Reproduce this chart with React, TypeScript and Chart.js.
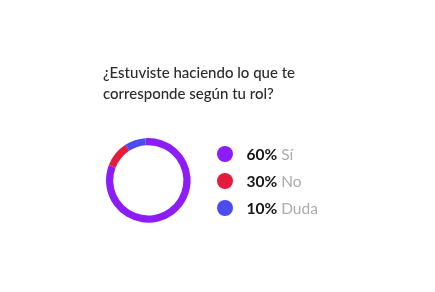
import React, { useEffect, useRef } from "react";
import { Chart, registerables } from "chart.js";

Chart.register(...registerables);

const titleLines = ["¿Estuviste haciendo lo que te", "corresponde según tu rol?"];
const categories = ["Sí", "No", "Duda"];
const percentLabels = ["60%", "30%", "10%"];
const sliceValues = [82, 10, 8];
const colors = ["#8C1CF8", "#E51B3B", "#4B4BF0"];

const FONT = "Lato, 'DejaVu Sans', sans-serif";

const textPlugin = {
  id: "textPlugin",
  afterDraw(chart: any) {
    const ctx = chart.ctx as CanvasRenderingContext2D;
    ctx.save();
    ctx.textBaseline = "alphabetic";
    ctx.textAlign = "left";
    ctx.fillStyle = "#2a2a2a";
    ctx.font = `500 15px ${FONT}`;
    titleLines.forEach((line, i) => {
      ctx.fillText(line, 103, 78 + i * 21);
    });
    categories.forEach((cat, i) => {
      const cy = 154 + i * 27;
      ctx.beginPath();
      ctx.arc(225, cy, 8, 0, Math.PI * 2);
      ctx.fillStyle = colors[i];
      ctx.fill();
      ctx.font = `700 15.5px ${FONT}`;
      ctx.fillStyle = "#151515";
      const pct = percentLabels[i];
      ctx.fillText(pct, 246.5, cy + 6);
      const w = ctx.measureText(pct).width;
      ctx.font = `400 15.5px ${FONT}`;
      ctx.fillStyle = "#ababab";
      ctx.fillText(cat, 246.5 + w + 4, cy + 6);
    });
    ctx.restore();
  },
};

export default function App() {
  const ref = useRef<HTMLCanvasElement>(null);
  useEffect(() => {
    if (!ref.current) return;
    const chart = new Chart(ref.current, {
      type: "doughnut",
      data: {
        labels: categories,
        datasets: [
          {
            data: sliceValues,
            backgroundColor: colors,
            borderWidth: 0,
          },
        ],
      },
      options: {
        animation: false,
        responsive: false,
        rotation: -4,
        cutout: "83%",
        layout: { padding: { left: 106, top: 138, right: 244.4, bottom: 69.3 } },
        plugins: {
          legend: { display: false },
          title: { display: false },
          tooltip: { enabled: false },
        },
      },
      plugins: [textPlugin],
    });
    return () => chart.destroy();
  }, []);
  return (
    <div style={{ position: "absolute", left: 0, top: 0, width: 435, height: 292, background: "#fff" }}>
      <canvas ref={ref} width={435} height={292} style={{ width: 435, height: 292 }} />
    </div>
  );
}
